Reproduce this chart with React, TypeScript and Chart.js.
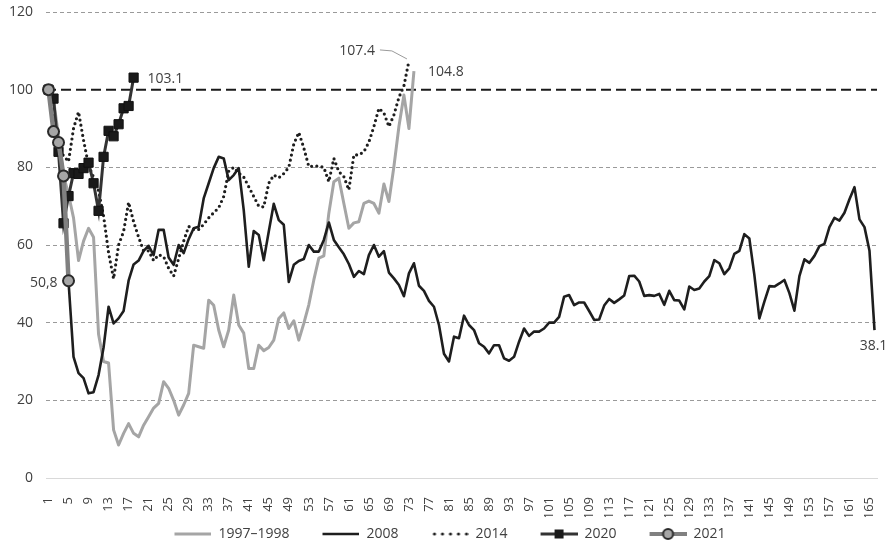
import React, { useEffect, useRef } from 'react';
import { Chart, registerables } from 'chart.js';

Chart.register(...registerables);

// ---------- data ----------
const CATEGORIES: string[] = Array.from({ length: 166 }, (_, i) => String(i + 1));
const Y_MIN = 0;
const Y_MAX = 120;
const Y_STEP = 20;
const REFERENCE_VALUE = 100;

const SERIES_NAMES = ['1997–1998', '2008', '2014', '2020', '2021'];

const S1997 = [
  100, 97.5, 88, 78, 73, 67, 56, 61, 64.3, 62,
  37, 30, 29.6, 12.4, 8.5, 11.5, 14, 11.5, 10.6, 13.6,
  15.8, 18, 19.2, 24.8, 23.1, 20, 16.2, 18.8, 21.8, 34.2,
  33.8, 33.4, 45.8, 44.5, 38.1, 33.8, 38.1, 47.1, 39.4, 37.3,
  28.2, 28.2, 34.2, 32.8, 33.6, 35.5, 41.1, 42.5, 38.5, 40.5,
  35.5, 39.8, 44.6, 51, 56.6, 57.2, 68.2, 76.3, 77.2, 70.7,
  64.3, 65.7, 66, 70.7, 71.3, 70.7, 68.2, 75.7, 71.2, 80.2,
  90.5, 98.6, 90, 104.8,
];

const S2008 = [
  100, 90, 85, 77, 50.6, 31.2, 27, 25.7, 21.8, 22.1,
  26.5, 33.6, 44.1, 39.8, 41.1, 43, 50.8, 55, 56, 58.5,
  59.8, 57.4, 63.9, 63.9, 56.8, 54.9, 60, 57.9, 61.5, 64.3,
  64.7, 72, 75.9, 79.8, 82.7, 82.3, 76.7, 78, 79.8, 69,
  54.4, 63.6, 62.6, 56.1, 63.5, 70.6, 66.4, 65.2, 50.5, 54.9,
  55.9, 56.4, 60, 58.3, 58.3, 61.3, 65.8, 61.3, 59.4, 57.6,
  55.1, 51.8, 53.3, 52.5, 57.4, 60, 57, 58.4, 52.9, 51.4,
  49.7, 46.8, 52.7, 55.3, 49.5, 48.2, 45.6, 44.1, 39.4, 32,
  30, 36.4, 36, 41.8, 39.4, 38.1, 34.7, 33.8, 32.1, 34.2,
  34.2, 30.8, 30.2, 31.2, 35.1, 38.5, 36.6, 37.7, 37.7, 38.5,
  40, 40, 41.5, 46.7, 47.1, 44.5, 45.2, 45.2, 43, 40.7,
  40.8, 44.4, 46.1, 45.1, 46, 47, 52, 52.1, 50.6, 46.9,
  47.1, 46.9, 47.4, 44.6, 48.2, 45.8, 45.7, 43.4, 49.3, 48.4,
  48.8, 50.6, 52, 56.1, 55.3, 52.5, 54, 57.7, 58.5, 62.8,
  61.7, 52.3, 41.1, 45.4, 49.4, 49.3, 50.1, 51, 47.6, 43.1,
  52, 56.3, 55.4, 57.2, 59.7, 60.3, 64.6, 67, 66.3, 68.3,
  71.8, 74.9, 66.6, 64.6, 58.5, 38.1,
];

const S2014 = [
  100, 92, 85, 83, 81.5, 90, 94.3, 87, 80.5, 77.5,
  74, 67.5, 58, 51.3, 60, 63.5, 71, 66, 62, 58.5,
  58.5, 56, 57.5, 57, 54, 52, 56.5, 61, 64.8, 64,
  64, 65.3, 67, 68.3, 69.6, 72.5, 79, 80, 78.5, 77.5,
  75, 72.5, 70, 69.8, 75.9, 78, 77.3, 78.4, 80, 86,
  89, 85, 80.2, 80.3, 80.3, 80, 76.3, 82.3, 78.9, 77.6,
  74.2, 83.2, 83.2, 84, 86.5, 90.5, 95.2, 94, 90.5, 93.5,
  98, 101, 107.4,
];

const S2020 = [100, 97.7, 84, 65.6, 72.6, 78.5, 78.3, 79.8, 81.2, 75.9, 68.8, 82.7, 89.4, 88.0, 91.1, 95.2, 95.8, 103.1];

const S2021 = [100, 89.2, 86.4, 77.8, 50.8];

// end-of-series labels: dataset index + shown text
const END_LABELS = [
  { dataset: 3, text: '103.1' },
  { dataset: 0, text: '104.8' },
  { dataset: 2, text: '107.4' },
  { dataset: 4, text: '50,8' },
  { dataset: 1, text: '38.1' },
];

// ---------- styles ----------
const FONT = "'Open Sans', 'Noto Sans', sans-serif";
const TEXT = '#404040';
const C_GRAY = '#a5a5a5';
const C_BLACK = '#1e1e1e';
const C_2020_LINE = '#333333';
const C_2021_LINE = '#808080';

function makeSample(kind: number): HTMLCanvasElement {
  const c = document.createElement('canvas');
  c.width = 60;
  c.height = 14;
  const g = c.getContext('2d')!;
  const y = 7;
  const x0 = 23;
  const x1 = 60;
  g.lineCap = 'butt';
  if (kind === 0 || kind === 1) {
    g.strokeStyle = kind === 0 ? C_GRAY : C_BLACK;
    g.lineWidth = kind === 0 ? 3 : 2.5;
    g.beginPath(); g.moveTo(x0, y); g.lineTo(x1, y); g.stroke();
  } else if (kind === 2) {
    g.fillStyle = C_BLACK;
    for (let k = 0; k < 5; k++) {
      g.beginPath(); g.arc(x0 + 3 + k * 8, y, 1.6, 0, Math.PI * 2); g.fill();
    }
  } else if (kind === 3) {
    g.strokeStyle = C_2020_LINE; g.lineWidth = 3;
    g.beginPath(); g.moveTo(x0, y); g.lineTo(x1, y); g.stroke();
    g.fillStyle = '#1a1a1a';
    g.fillRect((x0 + x1) / 2 - 4.5, y - 4.5, 9, 9);
  } else {
    g.strokeStyle = C_2021_LINE; g.lineWidth = 4;
    g.beginPath(); g.moveTo(x0, y); g.lineTo(x1, y); g.stroke();
    g.fillStyle = '#a6a6a6'; g.strokeStyle = '#2a2a2a'; g.lineWidth = 2;
    g.beginPath(); g.arc((x0 + x1) / 2, y, 5, 0, Math.PI * 2); g.fill(); g.stroke();
  }
  return c;
}

const referencePlugin = {
  id: 'referenceLine',
  beforeDatasetsDraw(chart: any) {
    const { ctx, chartArea } = chart;
    const y = chart.scales.y.getPixelForValue(REFERENCE_VALUE);
    ctx.save();
    ctx.strokeStyle = '#1a1a1a';
    ctx.lineWidth = 2;
    ctx.setLineDash([10, 5]);
    ctx.beginPath();
    ctx.moveTo(chartArea.left, y);
    ctx.lineTo(chartArea.right, y);
    ctx.stroke();
    ctx.restore();
  },
};

const endLabelPlugin = {
  id: 'endLabels',
  afterDatasetsDraw(chart: any) {
    const ctx = chart.ctx;
    ctx.save();
    ctx.font = `14px ${FONT}`;
    ctx.fillStyle = TEXT;
    ctx.textBaseline = 'middle';
    END_LABELS.forEach((lab) => {
      const meta = chart.getDatasetMeta(lab.dataset);
      const pt = meta.data[meta.data.length - 1];
      if (!pt) return;
      const { x, y } = pt;
      if (lab.dataset === 3 || lab.dataset === 0) {
        ctx.textAlign = 'left';
        ctx.fillText(lab.text, x + 14, y + 1);
      } else if (lab.dataset === 2) {
        ctx.textAlign = 'right';
        ctx.fillText(lab.text, x - 34, y - 10);
        ctx.save();
        ctx.strokeStyle = '#9a9a9a';
        ctx.lineWidth = 1;
        ctx.beginPath();
        ctx.moveTo(x - 29, y - 11);
        ctx.lineTo(x - 17, y - 10);
        ctx.lineTo(x - 2, y - 2);
        ctx.stroke();
        ctx.restore();
      } else if (lab.dataset === 4) {
        ctx.textAlign = 'right';
        ctx.fillText(lab.text, x - 11, y + 2);
      } else {
        ctx.textAlign = 'center';
        ctx.fillText(lab.text, x - 1, y + 16);
      }
    });
    ctx.restore();
  },
};

export default function App() {
  const ref = useRef<HTMLCanvasElement>(null);

  useEffect(() => {
    if (!ref.current) return;
    Chart.defaults.font.family = FONT;
    Chart.defaults.color = TEXT;
    const samples = [0, 1, 2, 3, 4].map(makeSample);

    const chart = new Chart(ref.current, {
      type: 'line',
      data: {
        labels: CATEGORIES,
        datasets: [
          {
            label: SERIES_NAMES[0], data: S1997, borderColor: C_GRAY, borderWidth: 3,
            pointRadius: 0, tension: 0, order: 5, borderJoinStyle: 'round',
          },
          {
            label: SERIES_NAMES[1], data: S2008, borderColor: C_BLACK, borderWidth: 2.6,
            pointRadius: 0, tension: 0, order: 4, borderJoinStyle: 'round',
          },
          {
            label: SERIES_NAMES[2], data: S2014, borderColor: C_BLACK, borderWidth: 3.2,
            borderDash: [0, 5.2], borderCapStyle: 'round', borderJoinStyle: 'round',
            pointRadius: 0, tension: 0, order: 3,
          },
          {
            label: SERIES_NAMES[3], data: S2020, borderColor: C_2020_LINE, borderWidth: 3,
            pointStyle: 'rect', pointRadius: 6.5, pointBackgroundColor: '#1a1a1a',
            pointBorderColor: '#111111', pointBorderWidth: 1, tension: 0, order: 2,
          },
          {
            label: SERIES_NAMES[4], data: S2021, borderColor: C_2021_LINE, borderWidth: 4.5,
            pointStyle: 'circle', pointRadius: 5.5, pointBackgroundColor: '#a6a6a6',
            pointBorderColor: '#2a2a2a', pointBorderWidth: 2, tension: 0, order: 1,
          },
        ] as any,
      },
      options: {
        animation: false,
        responsive: false,
        layout: { padding: { left: 0, right: 11, top: 12, bottom: -6 } },
        plugins: {
          tooltip: { enabled: false },
          legend: {
            position: 'bottom',
            labels: {
              usePointStyle: true,
              pointStyleWidth: 60,
              boxHeight: 14,
              padding: 10,
              color: TEXT,
              font: { size: 14, family: FONT },
              generateLabels: () =>
                SERIES_NAMES.map((name, i) => ({
                  text: name,
                  pointStyle: samples[i],
                  fillStyle: 'rgba(0,0,0,0)',
                  strokeStyle: 'rgba(0,0,0,0)',
                  lineWidth: 1,
                  hidden: false,
                  datasetIndex: i,
                  fontColor: TEXT,
                })) as any,
            },
          },
        },
        scales: {
          x: {
            offset: true,
            grid: { display: false },
            border: { display: true, color: '#d9d9d9', width: 1 },
            ticks: {
              autoSkip: false,
              minRotation: 90,
              maxRotation: 90,
              padding: 11,
              color: TEXT,
              font: { size: 13, family: FONT },
              callback: (_v: any, index: number) => (index % 4 === 0 ? CATEGORIES[index] : ''),
            },
            afterFit: (scale: any) => {
              scale.height = 39;
              scale.paddingLeft = 0;
              scale.paddingRight = 0;
            },
          },
          y: {
            min: Y_MIN,
            max: Y_MAX,
            ticks: { stepSize: Y_STEP, padding: 13, color: TEXT, font: { size: 14, family: FONT } },
            border: { display: false, dash: [4, 3] },
            grid: {
              drawTicks: false,
              lineWidth: 1,
              color: (ctx: any) =>
                ctx.tick && (ctx.tick.value === Y_MIN || ctx.tick.value === REFERENCE_VALUE)
                  ? 'rgba(0,0,0,0)'
                  : '#9a9a9a',
            },
            afterFit: (scale: any) => {
              scale.width = 46;
              scale.paddingTop = 0;
              scale.paddingBottom = 0;
            },
          },
        },
      } as any,
      plugins: [referencePlugin, endLabelPlugin],
    });
    return () => chart.destroy();
  }, []);

  return (
    <div style={{ position: 'absolute', left: 0, top: 0, width: 888, height: 545, background: '#ffffff' }}>
      <canvas ref={ref} width={888} height={545} style={{ display: 'block' }} />
    </div>
  );
}
